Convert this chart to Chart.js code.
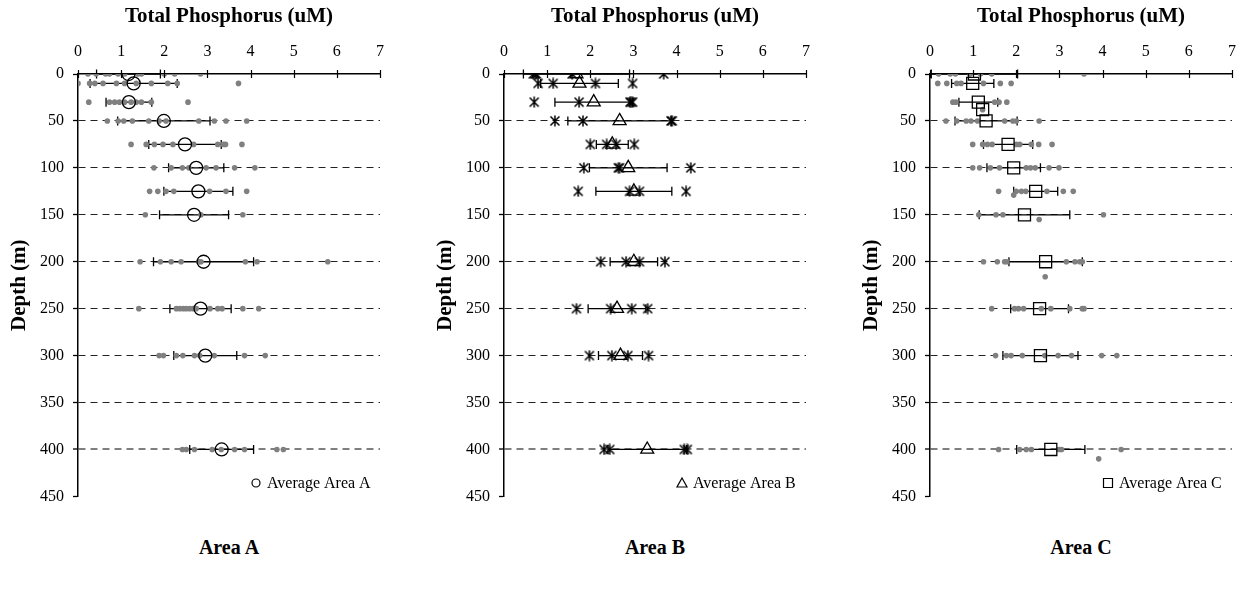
<!DOCTYPE html>
<html>
<head>
<meta charset="utf-8">
<script src="https://cdn.jsdelivr.net/npm/chart.js@4.4.0/dist/chart.umd.min.js"></script>
<style>
  body { margin: 0; background: #fff; width: 1249px; height: 590px; position: relative; overflow: hidden;
         font-family: "Liberation Serif", "Times New Roman", serif; }
  canvas { position: absolute; top: 0; }
  .area { position: absolute; top: 536px; width: 200px; text-align: center; font-weight: bold; font-size: 20px; color: #000; }
</style>
</head>
<body>
<canvas id="chartA" width="397" height="515" style="left:0px"></canvas>
<canvas id="chartB" width="397" height="515" style="left:426px"></canvas>
<canvas id="chartC" width="397" height="515" style="left:852px"></canvas>
<div class="area" style="left:129px">Area A</div>
<div class="area" style="left:555px">Area B</div>
<div class="area" style="left:981px">Area C</div>
<script>
const xTicks = [0, 1, 2, 3, 4, 5, 6, 7];
const depthTicks = [0, 50, 100, 150, 200, 250, 300, 350, 400, 450];

// Area A
const depthA = [0, 10, 30, 50, 75, 100, 125, 150, 200, 250, 300, 400];
const meanA = [1.17, 1.29, 1.18, 1.99, 2.48, 2.74, 2.79, 2.69, 2.91, 2.84, 2.95, 3.33];
const sdA = [0.74, 1.01, 0.53, 1.07, 0.84, 0.64, 0.80, 0.80, 1.16, 0.71, 0.73, 0.74];
const obsDepthA = depthA;
const obsA = [
  [0.23, 0.42, 0.64, 0.73, 0.93, 1.08, 1.39, 1.47, 2.0, 2.24, 2.84],
  [0.0, 0.27, 0.39, 0.58, 0.89, 1.08, 1.35, 1.70, 2.08, 2.30, 3.72],
  [0.25, 0.73, 0.85, 0.96, 1.08, 1.23, 1.35, 1.47, 1.70, 2.55],
  [0.68, 0.93, 1.06, 1.26, 1.64, 1.88, 2.04, 2.80, 3.16, 3.43, 3.91],
  [1.23, 1.58, 1.77, 1.97, 2.2, 2.68, 3.24, 3.37, 3.42, 3.80],
  [1.76, 2.16, 2.42, 2.57, 2.97, 3.2, 3.63, 4.1],
  [1.66, 1.85, 2.04, 2.22, 3.05, 3.43, 3.91],
  [1.56, 2.85, 3.82],
  [1.44, 1.91, 2.16, 2.39, 2.80, 2.85, 3.88, 4.15, 5.79],
  [1.41, 2.28, 2.36, 2.44, 2.51, 2.59, 2.67, 2.74, 3.06, 3.24, 3.34, 3.82, 4.19],
  [1.88, 1.98, 2.28, 2.43, 2.70, 2.82, 3.16, 3.86, 4.34],
  [2.42, 2.51, 2.70, 3.11, 3.32, 3.63, 3.86, 4.61, 4.76]
];

// Area B
const depthB = [0, 10, 30, 50, 75, 100, 125, 200, 250, 300, 400];
const meanB = [1.68, 1.75, 2.08, 2.68, 2.51, 2.88, 3.01, 3.01, 2.62, 2.70, 3.32];
const sdB = [1.23, 0.90, 0.90, 1.20, 0.37, 0.90, 0.88, 0.55, 0.67, 0.51, 0.91];
const obsDepthB = depthB;
const obsB = [
  [0.68, 0.72, 0.75, 1.58, 3.70],
  [0.79, 1.14, 2.12, 2.98],
  [0.70, 1.74, 2.92, 2.95, 2.98],
  [1.18, 1.83, 3.87, 3.90],
  [2.0, 2.38, 2.6, 3.02],
  [1.85, 2.65, 2.68, 4.33],
  [1.72, 2.91, 3.14, 4.22],
  [2.24, 2.83, 3.14, 3.73],
  [1.68, 2.47, 2.96, 3.33],
  [1.98, 2.5, 2.87, 3.35],
  [2.32, 2.45, 4.18, 4.25]
];

// Area C
const depthC = [0, 10, 30, 38, 50, 75, 100, 125, 150, 200, 250, 300, 400];
const meanC = [1.03, 0.99, 1.12, 1.22, 1.30, 1.81, 1.94, 2.45, 2.19, 2.68, 2.54, 2.56, 2.80];
const sdC = [1.0, 0.49, 0.45, 0, 0.72, 0.57, 0.62, 0.51, 1.05, 0.85, 0.67, 0.87, 0.79];
const obsDepthC = [0, 10, 30, 38, 50, 75, 100, 125, 129, 150, 155, 200, 216, 250, 300, 400, 410];
const obsC = [
  [0.2, 0.47, 0.59, 0.93, 1.17, 1.43, 3.57],
  [0.18, 0.39, 0.62, 0.72, 1.24, 1.63, 1.88],
  [0.53, 0.6, 1.5, 1.6, 1.78],
  [1.22],
  [0.37, 0.62, 0.84, 0.95, 1.1, 1.73, 1.92, 2.0, 2.53],
  [0.99, 1.22, 1.33, 1.44, 2.0, 2.08, 2.35, 2.52, 2.83],
  [0.99, 1.15, 1.4, 1.61, 2.23, 2.33, 2.44, 2.76, 2.99],
  [1.59, 2.0, 2.12, 2.22, 2.71, 3.09, 3.32],
  [1.94],
  [1.13, 1.53, 1.69, 4.02],
  [2.53],
  [1.24, 1.56, 1.73, 1.78, 3.16, 3.36, 3.47, 3.53],
  [2.67],
  [1.43, 1.96, 2.05, 2.17, 2.58, 2.80, 3.24, 3.53, 3.57],
  [1.52, 1.77, 1.88, 2.14, 2.66, 2.97, 3.28, 3.98, 4.33],
  [1.59, 2.08, 2.23, 2.35, 2.99, 3.05, 4.43],
  [3.91]
];

const serif = "'Liberation Serif', 'Times New Roman', serif";
const tickFont = { family: serif, size: 16 };
const titleFont = { family: serif, size: 21, weight: 'bold' };

// asterisk marker used for Area B samples
const starMarker = document.createElement('canvas');
starMarker.width = 12;
starMarker.height = 12;
(function () {
  const c = starMarker.getContext('2d');
  c.strokeStyle = '#000';
  c.lineWidth = 1.5;
  c.beginPath();
  c.moveTo(1.5, 1.5); c.lineTo(10.5, 10.5);
  c.moveTo(10.5, 1.5); c.lineTo(1.5, 10.5);
  c.moveTo(6, 0.5); c.lineTo(6, 11.5);
  c.stroke();
})();

function points(depths, values) {
  return depths.map((d, i) => ({ x: values[i], y: d }));
}

function obsPoints(depths, rows) {
  const pts = [];
  rows.forEach((row, i) => row.forEach(v => pts.push({ x: v, y: depths[i] })));
  return pts;
}

const panelPlugin = {
  id: 'panel',
  beforeDatasetsDraw(chart, args, opts) {
    const { ctx, scales: { x, y } } = chart;
    ctx.save();
    ctx.strokeStyle = '#000';
    ctx.lineWidth = 1.3;
    opts.depth.forEach((d, i) => {
      const s = opts.sd[i];
      if (!s) return;
      const py = y.getPixelForValue(d);
      const x1 = x.getPixelForValue(opts.mean[i] - s);
      const x2 = x.getPixelForValue(opts.mean[i] + s);
      ctx.beginPath();
      ctx.moveTo(x1, py); ctx.lineTo(x2, py);
      ctx.moveTo(x1, py - 4.5); ctx.lineTo(x1, py + 4.5);
      ctx.moveTo(x2, py - 4.5); ctx.lineTo(x2, py + 4.5);
      ctx.stroke();
    });
    ctx.restore();
  },
  afterDraw(chart, args, opts) {
    const { ctx, chartArea, scales: { x } } = chart;
    ctx.save();
    // cross tick marks on the top axis
    ctx.strokeStyle = '#000';
    ctx.lineWidth = 1.2;
    xTicks.forEach(v => {
      const px = Math.round(x.getPixelForValue(v)) + 0.5;
      ctx.beginPath();
      ctx.moveTo(px, chartArea.top - 4);
      ctx.lineTo(px, chartArea.top + 4);
      ctx.stroke();
    });
    // legend inside the plot, bottom right
    const lx = chartArea.left + 178;
    const ly = chartArea.top + 409;
    ctx.lineWidth = 1.2;
    ctx.beginPath();
    if (opts.symbol === 'circle') {
      ctx.arc(lx, ly, 4, 0, Math.PI * 2);
    } else if (opts.symbol === 'triangle') {
      ctx.moveTo(lx, ly - 5); ctx.lineTo(lx + 5, ly + 4); ctx.lineTo(lx - 5, ly + 4); ctx.closePath();
    } else {
      ctx.rect(lx - 4.5, ly - 4.5, 9, 9);
    }
    ctx.stroke();
    ctx.fillStyle = '#000';
    ctx.font = "16px " + serif;
    ctx.textBaseline = 'middle';
    ctx.textAlign = 'left';
    ctx.fillText(opts.label, lx + 11, ly + 1);
    ctx.restore();
  }
};

function gridColor(c) {
  if (!c.tick || c.tick.value === 0 || c.tick.value === 450) return 'rgba(0,0,0,0)';
  return c.tick.value === 400 ? '#7f7f7f' : '#222';
}

function makeChart(id, depth, mean, sd, obsDepth, obs, avgStyle, avgRadius, obsStyle, label, symbol) {
  const obsSet = obsStyle === 'star'
    ? { data: obsPoints(obsDepth, obs), pointStyle: starMarker, pointRadius: 6 }
    : { data: obsPoints(obsDepth, obs), pointStyle: 'circle', pointRadius: 2.8,
        backgroundColor: '#808080', borderColor: '#808080', borderWidth: 0 };
  return new Chart(document.getElementById(id), {
    type: 'scatter',
    data: {
      datasets: [
        {
          label: label,
          data: points(depth, mean),
          pointStyle: avgStyle,
          pointRadius: avgRadius,
          backgroundColor: 'rgba(0,0,0,0)',
          borderColor: '#000',
          borderWidth: 1.3
        },
        Object.assign({ label: 'Samples' }, obsSet)
      ]
    },
    options: {
      responsive: false,
      animation: false,
      layout: { autoPadding: false, padding: { left: 0, right: 16, top: 0, bottom: 12 } },
      plugins: {
        legend: { display: false },
        tooltip: { enabled: false },
        panel: { depth: depth, mean: mean, sd: sd, label: label, symbol: symbol }
      },
      scales: {
        x: {
          type: 'linear',
          position: 'top',
          min: 0,
          max: 7,
          afterFit: s => { s.height = 74; },
          afterBuildTicks: s => { s.ticks = xTicks.map(v => ({ value: v })); },
          ticks: { font: tickFont, color: '#000', padding: 13 },
          grid: { color: 'rgba(0,0,0,0)', drawTicks: false },
          border: { display: true, color: '#000', width: 1.5 },
          title: { display: true, text: 'Total Phosphorus (uM)', font: titleFont, color: '#000',
                   padding: { top: 4, bottom: 0 } }
        },
        y: {
          type: 'linear',
          reverse: true,
          min: 0,
          max: 450,
          afterFit: s => { s.width = 78; },
          afterBuildTicks: s => { s.ticks = depthTicks.map(v => ({ value: v })); },
          ticks: { font: tickFont, color: '#000', padding: 9 },
          grid: {
            color: gridColor,
            lineWidth: c => (c.tick && c.tick.value === 400) ? 2 : 1,
            tickLength: 5,
            tickColor: '#000',
            tickWidth: 1.3,
            tickBorderDash: []
          },
          border: { display: true, color: '#000', width: 1.5, dash: [7, 5] },
          title: { display: true, text: 'Depth (m)', font: titleFont, color: '#000',
                   padding: { top: 7, bottom: 0 } }
        }
      }
    },
    plugins: [panelPlugin]
  });
}

makeChart('chartA', depthA, meanA, sdA, obsDepthA, obsA, 'circle', 6.5, 'dot', 'Average Area A', 'circle');
makeChart('chartB', depthB, meanB, sdB, obsDepthB, obsB, 'triangle', 7.5, 'star', 'Average Area B', 'triangle');
makeChart('chartC', depthC, meanC, sdC, obsDepthC, obsC, 'rect', 8.5, 'dot', 'Average Area C', 'rect');
</script>
</body>
</html>
